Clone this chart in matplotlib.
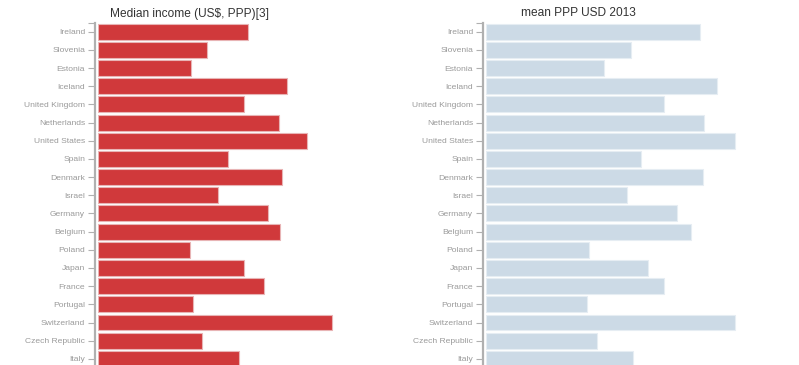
import matplotlib
matplotlib.use("Agg")
import matplotlib.pyplot as plt

plt.rcParams['font.family'] = ['Liberation Sans', 'DejaVu Sans']

paises = ["Ireland", "Slovenia", "Estonia", "Iceland", "United Kingdom", "Netherlands",
          "United States", "Spain", "Denmark", "Israel", "Germany", "Belgium", "Poland",
          "Japan", "France", "Portugal", "Switzerland", "Czech Republic", "Italy"]

# valores (aprox.)
mediana = [22600, 16400, 14000, 28400, 21900, 27200, 31400, 19600, 27700, 18100,
           25600, 27400, 13900, 22000, 25000, 14300, 35200, 15700, 21200]
media_2013 = [49400, 33350, 27140, 53360, 40940, 50370, 57500, 35650, 50140, 32430,
              44160, 47380, 23690, 37260, 40940, 23230, 57500, 25530, 33810]

titulos = ["Median income (US$, PPP)[3]", "mean PPP USD 2013"]
colores = ["#d0393b", "#ccdae6"]
bordes = ["#e8b4b5", "#e6edf3"]

W, H = 799, 365
fig = plt.figure(figsize=(W / 100, H / 100), dpi=100)

fila = 18.17
top = 22.7
alto = fila * len(paises)

# (x inicio barras, px por unidad, x centro titulo)
paneles = [(97.5, 1 / 150.0, 190), (485.5, 1 / 230.0, 578)]

for k, datos in enumerate([mediana, media_2013]):
    x0, escala, xt = paneles[k]
    ancho = 300
    ax = fig.add_axes([x0 / W, (H - top - alto) / H, ancho / W, alto / H])
    pos = list(range(len(paises)))
    ax.barh(pos, datos, height=0.88, color=colores[k], edgecolor=bordes[k], linewidth=0.8)
    ax.set_xlim(0, ancho / escala)
    ax.set_ylim(len(paises) - 0.5, -0.5)
    ax.tick_params(axis='y', which='both', length=5, width=0.8, color="#b0b0b0", pad=2,
                   labelsize=6.1, labelcolor="#9a9a9a")
    ax.set_yticks(pos)
    ax.set_yticklabels(paises)
    ax.set_yticks([-0.5], minor=True)
    ax.set_xticks([])
    for s in ["top", "right", "bottom"]:
        ax.spines[s].set_visible(False)
    ax.spines['left'].set_position(('outward', 2))
    ax.spines['left'].set_color("#b0b0b0")
    ax.spines['left'].set_linewidth(1.6)
    ax.patch.set_alpha(0)
    fig.text(xt / W, 1 - 13.5 / H, titulos[k], ha="center", va="center",
             fontsize=8.6, color="#333333")

fig.savefig("out.png", dpi=100)
